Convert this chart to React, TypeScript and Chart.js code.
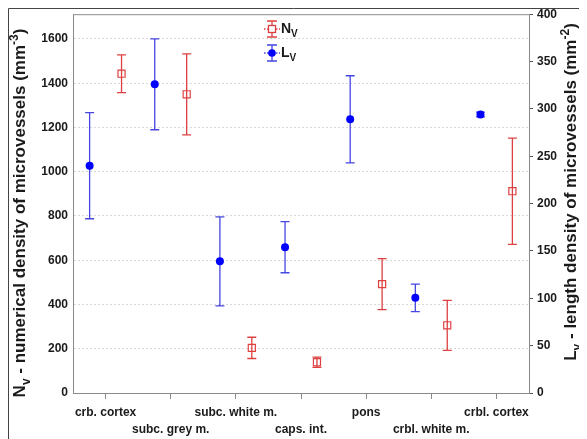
import { useEffect, useRef } from 'react';
import { Chart, registerables } from 'chart.js';
Chart.register(...registerables);

const categories = ['crb. cortex', 'subc. grey m.', 'subc. white m.', 'caps. int.', 'pons', 'crbl. white m.', 'crbl. cortex'];
const nvValues = [1443, 1350, 204, 139, 492, 306, 912];
const nvErrors = [85, 183, 48, 23, 115, 113, 240];
const lvValues = [240, 326, 139, 154, 289, 100.5, 294];
const lvErrors = [56, 48, 47, 27, 46, 14.5, 2.5];

const RED = 'rgb(222,64,64)';
const BLUE_BAR = 'rgb(70,70,225)';
const BLUE = 'rgb(0,0,255)';
const SHIFT = 0.245;
const FONT = '"Liberation Sans", Arial, sans-serif';
const AXIS = '#8a8a8a';

type Seg = { t: string; k: 'n' | 'sub' | 'sup' };

function drawRich(ctx: CanvasRenderingContext2D, segs: Seg[], x: number, y: number, size: number, rotate: boolean, align: 'center' | 'left') {
  ctx.save();
  ctx.translate(x, y);
  if (rotate) ctx.rotate(-Math.PI / 2);
  const small = Math.round(size * 0.68);
  const fontFor = (k: string) => `bold ${k === 'n' ? size : small}px ${FONT}`;
  let total = 0;
  for (const s of segs) {
    ctx.font = fontFor(s.k);
    total += ctx.measureText(s.t).width;
  }
  let cx = align === 'center' ? -total / 2 : 0;
  ctx.textBaseline = 'alphabetic';
  ctx.textAlign = 'left';
  ctx.fillStyle = '#1a1a1a';
  for (const s of segs) {
    ctx.font = fontFor(s.k);
    const dy = s.k === 'sub' ? size * 0.3 : s.k === 'sup' ? -size * 0.42 : 0;
    ctx.fillText(s.t, cx, size * 0.36 + dy);
    cx += ctx.measureText(s.t).width;
  }
  ctx.restore();
}

const errorBarPlugin = {
  id: 'errorBars',
  beforeDatasetsDraw(chart: any) {
    const ctx = chart.ctx;
    chart.data.datasets.forEach((ds: any, di: number) => {
      const meta = chart.getDatasetMeta(di);
      const ys = chart.scales[meta.yAxisID];
      ctx.save();
      ctx.strokeStyle = ds.barColor;
      ctx.lineWidth = 1.3;
      meta.data.forEach((el: any, i: number) => {
        const v = ds.values[i];
        const e = ds.errors[i];
        const x = el.x;
        const yt = ys.getPixelForValue(v + e);
        const yb = ys.getPixelForValue(v - e);
        ctx.beginPath();
        ctx.moveTo(x, yt);
        ctx.lineTo(x, yb);
        ctx.moveTo(x - 4.5, yt);
        ctx.lineTo(x + 4.5, yt);
        ctx.moveTo(x - 4.5, yb);
        ctx.lineTo(x + 4.5, yb);
        ctx.stroke();
      });
      ctx.restore();
    });
  },
};

const decorPlugin = {
  id: 'decor',
  afterDraw(chart: any) {
    const ctx = chart.ctx;
    const a = chart.chartArea;
    ctx.save();
    ctx.strokeStyle = AXIS;
    ctx.lineWidth = 1;
    ctx.beginPath();
    ctx.moveTo(a.left, a.top + 0.5);
    ctx.lineTo(a.right, a.top + 0.5);
    ctx.stroke();
    ctx.strokeStyle = '#444';
    ctx.beginPath();
    ctx.moveTo(0.5, chart.height);
    ctx.lineTo(0.5, 0.5);
    ctx.lineTo(chart.width, 0.5);
    ctx.stroke();
    ctx.restore();

    drawRich(ctx, [
      { t: 'N', k: 'n' }, { t: 'v', k: 'sub' },
      { t: ' - numerical density of microvessels (mm', k: 'n' }, { t: '-3', k: 'sup' }, { t: ')', k: 'n' },
    ], 11, 205, 17, true, 'center');
    drawRich(ctx, [
      { t: 'L', k: 'n' }, { t: 'v', k: 'sub' },
      { t: ' - length density of microvessels (mm', k: 'n' }, { t: '-2', k: 'sup' }, { t: ')', k: 'n' },
    ], 562, 184, 17, true, 'center');

    const items = [
      { y: 21, bar: RED, kind: 'rect', label: 'N' },
      { y: 45, bar: BLUE_BAR, kind: 'circle', label: 'L' },
    ];
    const lx = 264;
    for (const it of items) {
      ctx.save();
      ctx.strokeStyle = it.bar;
      ctx.lineWidth = 1.3;
      ctx.beginPath();
      ctx.moveTo(lx, it.y - 8);
      ctx.lineTo(lx, it.y + 8);
      ctx.moveTo(lx - 5, it.y - 8);
      ctx.lineTo(lx + 5, it.y - 8);
      ctx.moveTo(lx - 5, it.y + 8);
      ctx.lineTo(lx + 5, it.y + 8);
      ctx.stroke();
      ctx.setLineDash([1.5, 1.5]);
      ctx.beginPath();
      ctx.moveTo(lx - 8, it.y);
      ctx.lineTo(lx + 8, it.y);
      ctx.stroke();
      ctx.setLineDash([]);
      if (it.kind === 'rect') {
        ctx.fillStyle = '#fff';
        ctx.fillRect(lx - 3.5, it.y - 3.5, 7, 7);
        ctx.strokeStyle = RED;
        ctx.strokeRect(lx - 3.5, it.y - 3.5, 7, 7);
      } else {
        ctx.fillStyle = BLUE;
        ctx.beginPath();
        ctx.arc(lx, it.y, 3.8, 0, Math.PI * 2);
        ctx.fill();
      }
      ctx.restore();
      drawRich(ctx, [{ t: it.label, k: 'n' }, { t: 'V', k: 'sub' }], lx + 9, it.y - 1, 14, false, 'left');
    }
  },
};

export default function App() {
  const ref = useRef<HTMLCanvasElement | null>(null);
  useEffect(() => {
    if (!ref.current) return;
    const tickFont = { family: FONT, size: 12, weight: 'bold' as const, lineHeight: 1.4 };
    const noPad = (s: any) => {
      s.paddingTop = 0;
      s.paddingBottom = 0;
    };
    const chart = new Chart(ref.current, {
      type: 'scatter',
      data: {
        datasets: [
          {
            label: 'Nv',
            data: nvValues.map((v, i) => ({ x: i + 0.5 + SHIFT, y: v })),
            values: nvValues,
            errors: nvErrors,
            barColor: RED,
            yAxisID: 'y',
            pointStyle: 'rect',
            pointRadius: 5,
            pointBorderWidth: 1.2,
            borderColor: RED,
            backgroundColor: 'rgba(255,255,255,0)',
          } as any,
          {
            label: 'Lv',
            data: lvValues.map((v, i) => ({ x: i + 0.5 - SHIFT, y: v })),
            values: lvValues,
            errors: lvErrors,
            barColor: BLUE_BAR,
            yAxisID: 'y2',
            pointStyle: 'circle',
            pointRadius: 4,
            pointBorderWidth: 0,
            borderColor: BLUE,
            backgroundColor: BLUE,
          } as any,
        ],
      },
      options: {
        animation: false,
        responsive: false,
        layout: { padding: { top: 5, left: 0, right: 0, bottom: 0 } },
        plugins: { legend: { display: false }, tooltip: { enabled: false } },
        scales: {
          x: {
            type: 'linear',
            min: 0,
            max: 7,
            afterBuildTicks: (s: any) => {
              s.ticks = categories.map((_, i) => ({ value: i + 0.5 }));
            },
            afterFit: (s: any) => {
              s.height = 46;
              s.paddingLeft = 0;
              s.paddingRight = 0;
            },
            ticks: {
              autoSkip: false,
              maxRotation: 0,
              minRotation: 0,
              padding: 5,
              color: '#1a1a1a',
              font: tickFont,
              callback: (v: any) => {
                const i = Math.round(Number(v) - 0.5);
                return i % 2 === 0 ? [categories[i], ''] : ['', categories[i]];
              },
            },
            grid: { drawOnChartArea: false, drawTicks: true, tickLength: 6, color: AXIS },
            border: { color: AXIS, width: 1 },
          },
          y: {
            position: 'left',
            min: 0,
            max: 1712,
            afterBuildTicks: (s: any) => {
              s.ticks = s.ticks.filter((t: any) => t.value % 200 === 0);
            },
            afterFit: (s: any) => {
              s.width = 65;
              noPad(s);
            },
            ticks: { stepSize: 200, padding: 5, color: '#1a1a1a', font: tickFont, callback: (v: any) => String(v) },
            grid: { color: '#d8d8d8', drawTicks: false, lineWidth: 1 },
            border: { color: AXIS, width: 1, dash: [2, 2] },
          },
          y2: {
            position: 'right',
            min: 0,
            max: 400,
            afterFit: (s: any) => {
              s.width = 50;
              noPad(s);
            },
            ticks: { stepSize: 50, padding: 4, color: '#1a1a1a', font: tickFont, callback: (v: any) => String(v) },
            grid: { drawOnChartArea: false, drawTicks: true, tickLength: 4, color: '#555' },
            border: { color: AXIS, width: 1 },
          },
        },
      } as any,
      plugins: [errorBarPlugin, decorPlugin],
    });
    return () => chart.destroy();
  }, []);
  return <canvas ref={ref} width={571} height={431} style={{ display: 'block' }} />;
}
